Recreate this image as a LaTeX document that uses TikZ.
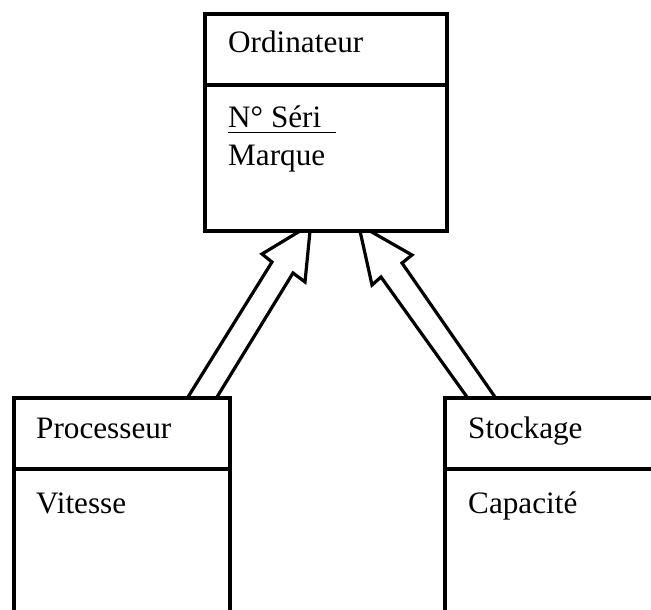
\documentclass[tikz,border=0pt]{standalone}
\usepackage{fontspec}
\setmainfont{Liberation Serif}
\tikzset{
  frame/.style={draw=black, line width=3.2pt},
  label/.style={anchor=base west, inner sep=0pt, font=\fontsize{31.2}{37}\selectfont},
  hollowarrow/.style={draw=black, fill=white, line width=3.2pt, line join=miter}
}
\begin{document}
\begin{tikzpicture}[x=1pt,y=-1pt]
  \useasboundingbox (0,0) rectangle (651,610);
  \clip (0,0) rectangle (651,610);

  % inheritance arrows (hollow block arrows)
  \draw[hollowarrow] (188,397) -- (272,262) -- (262,254) -- (300,231) -- (310,231)
        -- (305,282) -- (293,273) -- (217,397);
  \draw[hollowarrow] (467,397) -- (381,277) -- (372,285) -- (360,231) -- (370,231)
        -- (412,255) -- (402,263) -- (495,397);

  % class Ordinateur
  \draw[frame, fill=white] (205,14) rectangle (447,231);
  \draw[frame] (205,85) -- (447,85);
  \node[label] (ordname) at (228,53) {Ordinateur};
  \node[label] (ordkey) at (228,128) {N° Séri};
  \draw[line width=1.6pt] (228,132.5) -- (336,132.5);
  \node[label] (ordattr) at (228,165) {Marque};

  % class Processeur
  \draw[frame, fill=white] (14,398) rectangle (230,630);
  \draw[frame] (14,469) -- (230,469);
  \node[label] (procname) at (36,438) {Processeur};
  \node[label] (procattr) at (36,513) {Vitesse};

  % class Stockage
  \draw[frame, fill=white] (445,398) rectangle (670,630);
  \draw[frame] (445,469) -- (670,469);
  \node[label] (stoname) at (468,438) {Stockage};
  \node[label] (stoattr) at (468,513) {Capacité};
\end{tikzpicture}
\end{document}
